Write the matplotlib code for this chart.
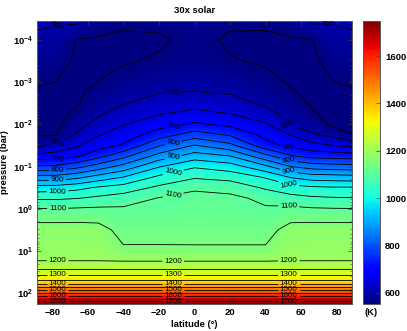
import numpy as np
import matplotlib
matplotlib.use("Agg")
import matplotlib.pyplot as plt

plt.rcParams['font.family'] = ['Liberation Sans', 'DejaVu Sans']
plt.rcParams['mathtext.fontset'] = 'custom'
plt.rcParams['mathtext.rm'] = 'Liberation Sans'
plt.rcParams['mathtext.bf'] = 'Liberation Sans:bold'

# ---------------- data ----------------
title = "30x solar"
lat_deg = [-88.6, -78, -66, -54, -40, -20, 0, 20, 40, 54, 66, 78, 88.6]
log10_p_bar = [-4.45, -4.0, -3.5, -3.0, -2.75, -2.5, -2.25, -2.0, -1.75, -1.5,
               -1.25, -1.0, -0.75, -0.5, -0.25, 0.0, 0.5, 1.0, 1.25, 1.5,
               1.75, 2.0, 2.26]
# temperature (K): one row per pressure level, one column per latitude
temperature_K = [
    [610, 604, 610, 575, 556, 562, 575, 558, 556, 575, 610, 603, 608],
    [591, 588, 548, 545, 544, 543, 565, 543, 544, 545, 548, 587, 590],
    [572, 569, 542, 540, 545, 556, 568, 553, 545, 538, 541, 568, 572],
    [553, 550, 540, 551, 569, 584, 590, 582, 563, 546, 538, 549, 555],
    [547, 543, 542, 566, 583, 598, 602, 596, 577, 555, 540, 544, 546],
    [540, 538, 546, 580, 597, 622, 631, 621, 591, 569, 545, 538, 540],
    [536, 534, 561, 594, 621, 647, 665, 650, 617, 583, 556, 533, 535],
    [538, 537, 583, 617, 647, 680, 708, 688, 656, 596, 580, 540, 538],
    [545, 548, 607, 647, 674, 726, 774, 745, 686, 649, 607, 586, 552],
    [586, 613, 643, 680, 706, 796, 853, 814, 719, 686, 667, 650, 637],
    [666, 672, 693, 734, 784, 869, 923, 900, 815, 755, 732, 729, 725],
    [758, 760, 785, 823, 867, 946, 994, 974, 910, 850, 828, 821, 817],
    [868, 868, 887, 919, 950, 1010, 1043, 1030, 995, 946, 925, 921, 918],
    [972, 972, 985, 1006, 1021, 1060, 1095, 1085, 1042, 1018, 1008, 1004, 1004],
    [1042, 1042, 1048, 1060, 1074, 1102, 1110, 1110, 1090, 1068, 1058, 1054, 1052],
    [1101, 1101, 1104, 1107, 1106, 1108, 1115, 1112, 1104, 1110, 1104, 1102, 1101],
    [1175, 1175, 1175, 1170, 1131, 1131, 1130, 1130, 1130, 1170, 1175, 1175, 1175],
    [1185, 1185, 1185, 1185, 1158, 1158, 1158, 1158, 1158, 1185, 1185, 1185, 1185],
    [1201] * 13,
    [1270] * 13,
    [1378] * 13,
    [1550] * 13,
    [1745] * 13,
]
label_levels = [600, 700, 800, 900, 1000, 1100, 1200, 1300, 1400, 1500, 1600, 1700]
plain_levels = [550, 650, 750, 850, 950, 1050, 1150, 1250, 1350, 1450, 1550, 1650]
label_lats = [-77, -12, 53]
cbar_ticks = [600, 800, 1000, 1200, 1400, 1600]
xticks = [-80, -60, -40, -20, 0, 20, 40, 60, 80]
color_range = (553, 1748)

# ---------------- figure ----------------
W, H = 407, 331
fig = plt.figure(figsize=(W / 100, H / 100), dpi=100)
ax = fig.add_axes([37 / W, (H - 304) / H, 315 / W, 283 / H])
cax = fig.add_axes([363 / W, (H - 304) / H, 17 / W, 283 / H])

X = np.array(lat_deg)
Y = np.array(log10_p_bar)
Z = np.array(temperature_K, dtype=float)

norm = matplotlib.colors.Normalize(vmin=color_range[0], vmax=color_range[1])
fill_levels = np.arange(520, 1771, 10)
cf = ax.contourf(X, Y, Z, levels=fill_levels, cmap='jet', norm=norm)
ax.contour(X, Y, Z, levels=plain_levels, colors='k', linewidths=0.6)
cs = ax.contour(X, Y, Z, levels=label_levels, colors='k', linewidths=0.6)


def crossings(segs, lat0):
    pts = []
    for s in segs:
        xs, ys = s[:, 0], s[:, 1]
        for i in range(len(xs) - 1):
            a, b = xs[i] - lat0, xs[i + 1] - lat0
            if (a <= 0 < b) or (b <= 0 < a):
                t = (lat0 - xs[i]) / (xs[i + 1] - xs[i])
                pts.append((lat0, ys[i] + t * (ys[i + 1] - ys[i])))
    return pts


manual = []
for idx, lev in enumerate(label_levels):
    segs = cs.allsegs[idx]
    for lat0 in label_lats:
        manual.extend(crossings(segs, lat0))
    if lev == 600:
        extra = crossings(segs, 75)
        if extra:
            manual.append(min(extra, key=lambda p: p[1]))

cs.clabel(manual=manual, inline=True, inline_spacing=2,
          fontsize=5.8, fmt='%d', colors='k')

ax.set_xlim(lat_deg[0], lat_deg[-1])
ax.set_ylim(log10_p_bar[-1], log10_p_bar[0])

ax.set_xticks(xticks)
ax.set_xticklabels([str(v).replace('-', '\u2212') for v in xticks])
majors = [-4, -3, -2, -1, 0, 1, 2]
ax.set_yticks(majors)
ax.set_yticklabels([r'$\mathbf{10^{%d}}$' % m for m in majors])
minors = []
for n in range(-5, 3):
    for k in range(2, 10):
        v = n + np.log10(k)
        if log10_p_bar[0] < v < log10_p_bar[-1]:
            minors.append(v)
ax.set_yticks(minors, minor=True)

for lab in ax.get_xticklabels() + ax.get_yticklabels():
    lab.set_fontweight('bold')
    lab.set_fontsize(6.8)
ax.tick_params(which='both', direction='in', top=True, right=True,
               color='0.25', pad=3)
ax.tick_params(which='major', length=3, width=0.5)
ax.tick_params(which='minor', length=1.5, width=0.4)
for sp in ax.spines.values():
    sp.set_color('0.35')
    sp.set_linewidth(0.7)

ax.set_xlabel('latitude (\u00b0)', fontsize=6.8, fontweight='bold', labelpad=2)
ax.set_ylabel('pressure (bar)', fontsize=6.8, fontweight='bold', labelpad=3)
ax.set_title(title, fontsize=6.8, fontweight='bold', pad=6)

cb = fig.colorbar(cf, cax=cax)
cax.set_ylim(*color_range)
cb.set_ticks(cbar_ticks)
cb.set_ticklabels([str(t) for t in cbar_ticks])
cax.tick_params(direction='in', length=3, width=0.5, labelsize=6.8, color='0.25')
for lab in cax.get_yticklabels():
    lab.set_fontweight('bold')
cb.outline.set_edgecolor('0.35')
cb.outline.set_linewidth(0.7)
cax.text(0.5, -0.015, '(K)', transform=cax.transAxes, ha='center', va='top',
         fontsize=6.8, fontweight='bold')

fig.savefig('out.png', dpi=100)
